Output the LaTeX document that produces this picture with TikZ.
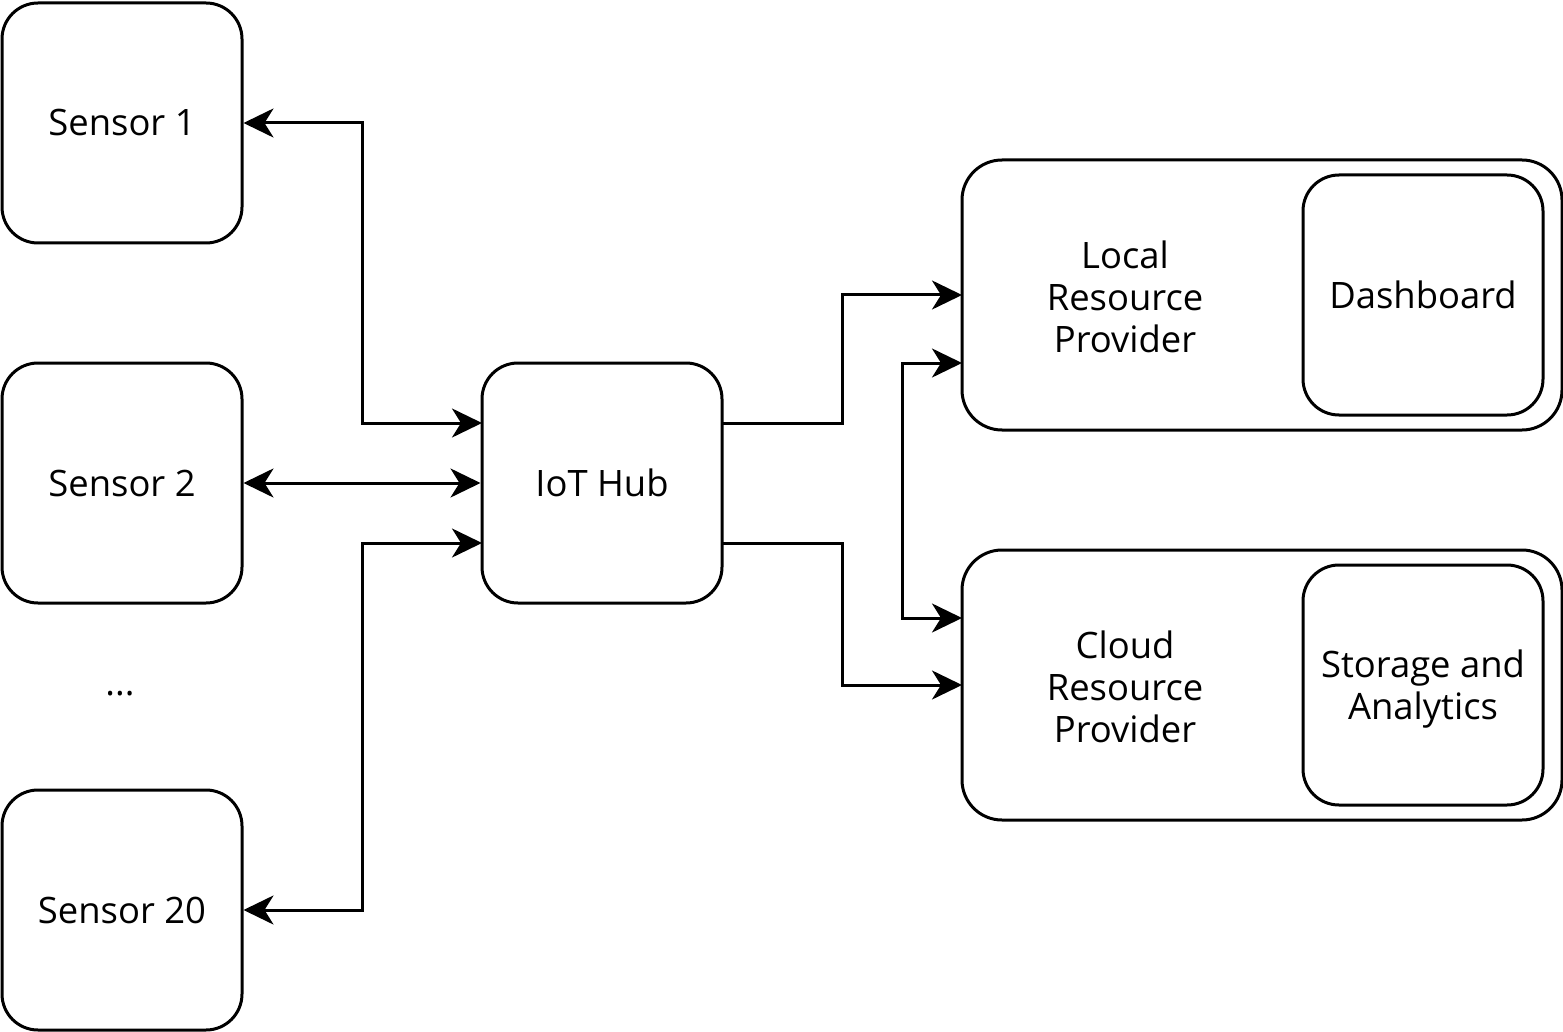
\documentclass[tikz,border=0pt]{standalone}
\usepackage{fontspec}
\setmainfont{Open Sans}
\usetikzlibrary{arrows.meta}
\begin{document}
\begin{tikzpicture}[x=0.5pt,y=-0.5pt,
  box/.style={draw,line width=1.5pt,rounded corners=18pt,minimum width=120pt,minimum height=120pt,inner sep=0pt,align=center},
  outerbox/.style={draw,line width=1.5pt,rounded corners=20pt,minimum width=300pt,minimum height=135pt,inner sep=0pt},
  lbl/.style={align=center,inner sep=0pt},
  conn/.style={line width=1.5pt,-{Stealth[length=15pt,width=14.5pt,inset=4.5pt]}},
  biconn/.style={line width=1.5pt,{Stealth[length=15pt,width=14.5pt,inset=4.5pt]}-{Stealth[length=15pt,width=14.5pt,inset=4.5pt]}},
  every node/.style={font=\fontsize{18.2pt}{21pt}\selectfont}]
\useasboundingbox (0,0) rectangle (1563,1032);
\node[box] (s1) at (122,123) {\raisebox{-1.5pt}{Sensor 1}};
\node[box] (s2) at (122,483) {\raisebox{-1.5pt}{Sensor 2}};
\node[lbl] (dots) at (120,694) {...};
\node[box] (s20) at (122,910) {\raisebox{-1pt}{Sensor 20}};
\node[box] (hub) at (602,483) {\raisebox{-1.5pt}{IoT Hub}};
\node[outerbox] (local) at (1262,295) {};
\node[lbl] (localtxt) at (1125,297) {Local\\Resource\\Provider};
\node[box] (dash) at (1423,295) {Dashboard};
\node[outerbox] (cloud) at (1262,685) {};
\node[lbl] (cloudtxt) at (1125,687) {Cloud\\Resource\\Provider};
\node[lbl] (stor) at (1423,689) {Storage and\\Analytics};
\node[box] (storbox) at (1423,685) {};
\coordinate (hubA) at (482,423);
\coordinate (hubC) at (482,543);
\coordinate (huboA) at (722,423);
\coordinate (huboC) at (722,543);
\coordinate (locA) at (962,295);
\coordinate (locB) at (962,363);
\coordinate (clA) at (962,685);
\coordinate (clB) at (962,618);
\draw[biconn] (s1.east) -- (362,123) -- (362,423) -- (hubA);
\draw[biconn] (s2.east) -- (hub.west);
\draw[biconn] (s20.east) -- (362,910) -- (362,543) -- (hubC);
\draw[conn] (huboA) -- (842,423) -- (842,295) -- (locA);
\draw[conn] (huboC) -- (842,543) -- (842,685) -- (clA);
\draw[biconn] (locB) -- (902,363) -- (902,618) -- (clB);
\end{tikzpicture}
\end{document}
